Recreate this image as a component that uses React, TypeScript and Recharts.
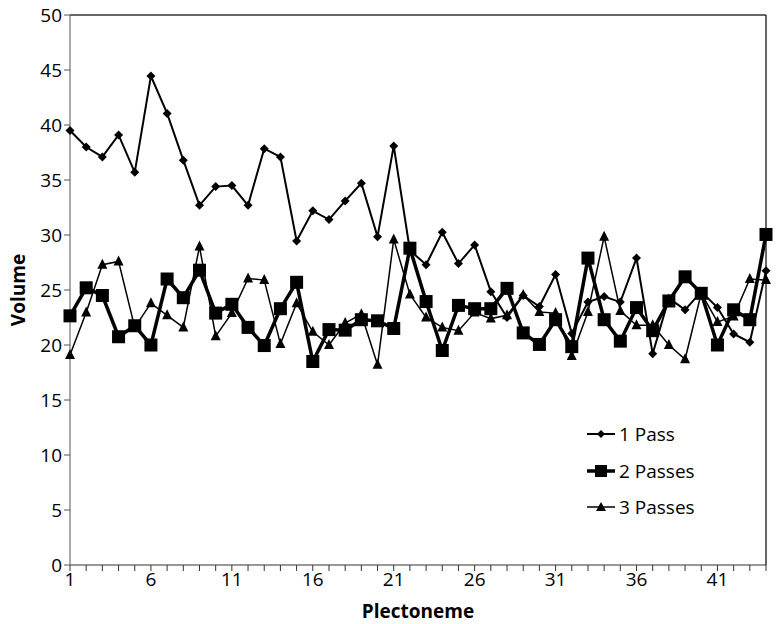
import React from "react";
import { LineChart, Line, XAxis, YAxis, ReferenceLine } from "recharts";

const plectonemes = Array.from({ length: 44 }, (_, i) => i + 1);

const onePass = [
  39.5, 38.0, 37.1, 39.1, 35.7, 44.45, 41.05, 36.8, 32.7, 34.4, 34.5, 32.7,
  37.85, 37.1, 29.45, 32.2, 31.4, 33.1, 34.7, 29.85, 38.1, 28.6, 27.3, 30.25,
  27.4, 29.1, 24.85, 22.5, 24.5, 23.5, 26.4, 21.05, 23.9, 24.4, 23.9, 27.9,
  19.2, 24.25, 23.2, 24.85, 23.4, 21.0, 20.25, 26.75,
];

const twoPasses = [
  22.65, 25.2, 24.5, 20.75, 21.75, 20.0, 26.0, 24.3, 26.8, 22.9, 23.7, 21.6,
  19.95, 23.3, 25.7, 18.5, 21.4, 21.35, 22.3, 22.2, 21.5, 28.8, 23.95, 19.5,
  23.6, 23.3, 23.3, 25.15, 21.1, 20.05, 22.3, 19.85, 27.9, 22.3, 20.35, 23.4,
  21.3, 24.0, 26.2, 24.7, 20.0, 23.2, 22.3, 30.05,
];

const threePasses = [
  19.1, 22.95, 27.3, 27.6, 21.6, 23.8, 22.7, 21.6, 28.95, 20.8, 22.9, 26.05,
  25.9, 20.1, 23.8, 21.2, 20.0, 22.0, 22.8, 18.2, 29.6, 24.6, 22.5, 21.6, 21.3,
  22.95, 22.4, 22.7, 24.55, 23.0, 22.9, 19.0, 23.0, 29.85, 23.1, 21.8, 21.8,
  20.0, 18.7, 24.7, 22.1, 22.6, 26.0, 25.9,
];

const xLabels = [1, 6, 11, 16, 21, 26, 31, 36, 41];
const yTicks = [0, 5, 10, 15, 20, 25, 30, 35, 40, 45, 50];
const seriesNames = ["1 Pass", "2 Passes", "3 Passes"];

const data = plectonemes.map((p, i) => ({
  x: p,
  one: onePass[i],
  two: twoPasses[i],
  three: threePasses[i],
}));

const FONT = "'Open Sans', 'Noto Sans', sans-serif";

const Diamond = (props: any) => {
  const { cx, cy } = props;
  if (cx == null || cy == null) return null;
  const r = 4.5;
  return (
    <path
      key={`d-${props.index}`}
      d={`M${cx},${cy - r}L${cx + r},${cy}L${cx},${cy + r}L${cx - r},${cy}Z`}
      fill="#000"
    />
  );
};

const Square = (props: any) => {
  const { cx, cy } = props;
  if (cx == null || cy == null) return null;
  const s = 6.5;
  return (
    <rect
      key={`s-${props.index}`}
      x={cx - s}
      y={cy - s}
      width={s * 2}
      height={s * 2}
      fill="#000"
    />
  );
};

const Triangle = (props: any) => {
  const { cx, cy } = props;
  if (cx == null || cy == null) return null;
  const r = 5;
  return (
    <path
      key={`t-${props.index}`}
      d={`M${cx},${cy - r - 1}L${cx + r},${cy + r - 1}L${cx - r},${cy + r - 1}Z`}
      fill="#000"
    />
  );
};

const legendIcons = [
  { w: 2, marker: (cx: number, cy: number) => <path d={`M${cx},${cy - 4}L${cx + 4},${cy}L${cx},${cy + 4}L${cx - 4},${cy}Z`} fill="#000" /> },
  { w: 3.5, marker: (cx: number, cy: number) => <rect x={cx - 6} y={cy - 6} width={12} height={12} fill="#000" /> },
  { w: 1.5, marker: (cx: number, cy: number) => <path d={`M${cx},${cy - 5}L${cx + 5},${cy + 4}L${cx - 5},${cy + 4}Z`} fill="#000" /> },
];

const VolumeLabel = (props: any) => {
  const vb = props.viewBox || {};
  const cy = (vb.y ?? 15) + (vb.height ?? 550) / 2;
  return (
    <text
      x={18}
      y={cy}
      transform={`rotate(-90, 18, ${cy})`}
      textAnchor="middle"
      dominantBaseline="central"
      style={{ fontFamily: FONT, fontSize: 19, fontWeight: "bold", fill: "#000" }}
    >
      Volume
    </text>
  );
};

const App: React.FC = () => {
  return (
    <div
      style={{
        position: "absolute",
        left: 0,
        top: 0,
        width: 778,
        height: 624,
        background: "#fff",
      }}
    >
      <LineChart
        width={778}
        height={624}
        data={data}
        margin={{ top: 15, right: 12, left: 0, bottom: 0 }}
      >
        <XAxis
          dataKey="x"
          type="number"
          domain={[1, 44]}
          ticks={plectonemes}
          interval={0}
          tickFormatter={(v: number) => (xLabels.includes(v) ? String(v) : "")}
          height={59}
          tickSize={6}
          stroke="#333"
          tick={{ fill: "#000", fontSize: 19, fontFamily: FONT }}
          label={{
            value: "Plectoneme",
            position: "insideBottom",
            offset: 6,
            style: { fontFamily: FONT, fontSize: 19, fontWeight: "bold", fill: "#000" },
          }}
        />
        <YAxis
          type="number"
          domain={[0, 50]}
          ticks={yTicks}
          interval={0}
          width={70}
          tickSize={6}
          stroke="#555"
          tick={{ fill: "#000", fontSize: 19, fontFamily: FONT }}
          label={<VolumeLabel />}
        />
        <ReferenceLine y={50} stroke="#333" strokeWidth={1.5} />
        <ReferenceLine x={44} stroke="#333" strokeWidth={1.5} />
        <Line
          name={seriesNames[0]}
          dataKey="one"
          stroke="#000"
          strokeWidth={2}
          dot={Diamond}
          isAnimationActive={false}
        />
        <Line
          name={seriesNames[1]}
          dataKey="two"
          stroke="#000"
          strokeWidth={3.5}
          dot={Square}
          isAnimationActive={false}
        />
        <Line
          name={seriesNames[2]}
          dataKey="three"
          stroke="#000"
          strokeWidth={1.5}
          dot={Triangle}
          isAnimationActive={false}
        />
      </LineChart>
      <div
        style={{
          position: "absolute",
          left: 585,
          top: 416,
          fontFamily: FONT,
          fontSize: 19,
          color: "#000",
        }}
      >
        {seriesNames.map((name, i) => (
          <div
            key={name}
            style={{ display: "flex", alignItems: "center", height: 36.5 }}
          >
            <svg width={32} height={20} style={{ marginRight: 2 }}>
              <line x1={2} y1={10} x2={30} y2={10} stroke="#000" strokeWidth={legendIcons[i].w} />
              {legendIcons[i].marker(16, 10)}
            </svg>
            <span>{name}</span>
          </div>
        ))}
      </div>
    </div>
  );
};

export default App;
